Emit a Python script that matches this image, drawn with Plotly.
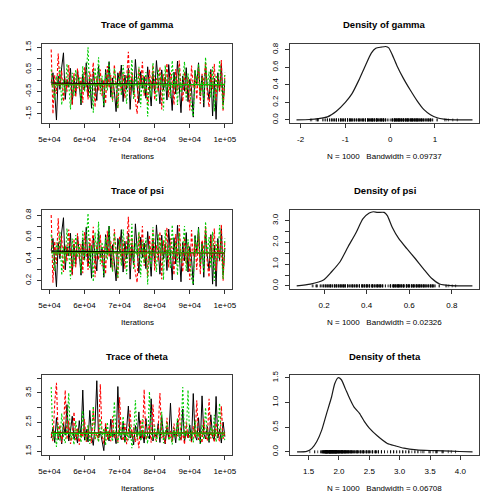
import plotly.graph_objects as go

# ---------------- data ----------------
iterations = list(range(50500, 100001, 500))  # thinned iteration numbers (100 per chain)

gamma_chain1 = [-0.10, 0.35, -0.55, -1.78, 0.20, -0.40, 0.60, 1.25, -0.85, 0.05,
                -0.30, 0.55, -1.05, 0.15, -0.60, 0.45, -0.20, -1.10, 0.30, -0.45,
                0.80, -0.70, 0.10, -1.25, 0.40, -0.15, -0.90, 0.65, -0.35, 0.02,
                -1.20, 0.50, -0.25, 0.85, -0.75, 0.12, -0.50, -1.40, 0.35, -0.10,
                0.70, -0.95, 0.25, -0.40, 0.55, -1.30, 0.08, -0.65, 0.95, -0.20,
                -1.00, 0.40, -0.35, 0.18, -0.80, 0.62, -0.12, -1.15, 0.30, -0.55,
                0.90, -0.28, -1.05, 0.48, -0.42, 0.15, -0.88, 0.72, -0.18, -1.35,
                0.38, -0.60, 0.88, -0.22, -1.45, 0.20, -0.48, 0.58, -0.95, 0.05,
                -0.38, -1.65, 0.45, -0.15, 0.80, -0.70, 0.22, -1.20, 0.65, -0.30,
                -0.85, 0.50, -1.60, 0.10, -1.75, 0.35, -0.45, 0.75, -1.10, 0.00]
gamma_chain2 = [1.40, -1.50, 0.25, -0.60, 1.22, -0.30, 0.45, -0.95, 0.10, -0.50,
                0.70, -0.20, -1.10, 0.35, -0.75, 0.55, -0.40, 0.15, -1.00, 0.60,
                -0.25, -0.85, 0.40, -0.10, 0.82, -1.20, 0.20, -0.45, 0.50, -0.70,
                0.05, -1.05, 0.65, -0.35, 0.25, -0.90, 0.72, -0.15, -1.25, 0.42,
                -0.55, 0.30, -0.80, 0.12, 1.30, -0.65, 0.38, -0.30, -1.00, -1.50,
                0.55, -0.22, 0.85, -0.68, 0.18, -1.15, 0.48, -0.40, 0.70, -0.88,
                0.10, -0.50, 0.62, -1.30, 0.28, -0.18, 0.78, -0.75, 0.35, -0.05,
                -1.10, 0.52, -0.45, 0.90, -0.28, -0.95, 0.40, -0.60, 0.15, -1.35,
                0.68, -0.32, 0.22, -0.85, 0.58, -1.05, 0.30, -0.15, 0.85, -0.62,
                -1.20, 0.45, -0.38, 0.75, -0.90, 0.18, -0.50, 0.92, -1.40, 0.25]
gamma_chain3 = [0.50, -0.40, -0.90, 0.20, -0.25, 0.60, -1.10, 0.05, -0.55, 0.75,
                -0.15, -1.30, 0.35, -0.70, 0.48, -0.35, 0.15, -1.00, 0.65, -0.50,
                0.28, 1.50, -0.80, 0.10, -1.45, 0.58, -0.30, 1.05, -0.62, 0.22,
                -1.15, 0.40, -0.45, 0.85, -0.20, -0.95, 0.55, -0.10, -1.25, 0.30,
                -0.68, 0.70, -0.05, -1.05, 0.45, -0.40, 0.95, -0.85, 0.18, -0.30,
                0.62, -1.20, 0.25, -0.58, 0.38, -1.62, 0.10, -0.72, 0.80, -0.25,
                -0.95, 0.52, -0.15, 0.30, -1.35, 0.68, -0.48, 0.12, -0.80, 0.90,
                -0.35, 0.20, -1.10, 0.58, -0.55, 0.05, 0.85, -0.90, 0.32, -0.42,
                -1.25, -1.62, 0.48, -0.20, 0.75, -0.65, 0.15, -1.00, 1.05, -0.30,
                0.40, -0.78, 0.62, -1.40, 0.25, -0.50, 0.90, -0.15, -1.30, 0.35]

psi_chain1 = [0.475, 0.587, 0.366, 0.144, 0.550, 0.401, 0.646, 0.777, 0.299, 0.512,
              0.426, 0.634, 0.259, 0.537, 0.354, 0.611, 0.450, 0.250, 0.574, 0.389,
              0.690, 0.332, 0.525, 0.223, 0.599, 0.463, 0.289, 0.657, 0.413, 0.505,
              0.231, 0.622, 0.438, 0.701, 0.321, 0.530, 0.378, 0.198, 0.587, 0.475,
              0.668, 0.279, 0.562, 0.401, 0.634, 0.214, 0.520, 0.343, 0.721, 0.450,
              0.269, 0.599, 0.413, 0.545, 0.310, 0.650, 0.470, 0.240, 0.574, 0.366,
              0.711, 0.430, 0.259, 0.618, 0.397, 0.537, 0.293, 0.673, 0.455, 0.206,
              0.594, 0.354, 0.707, 0.445, 0.190, 0.550, 0.382, 0.641, 0.279, 0.512,
              0.406, 0.161, 0.611, 0.463, 0.690, 0.332, 0.555, 0.231, 0.657, 0.426,
              0.299, 0.622, 0.168, 0.525, 0.148, 0.587, 0.389, 0.679, 0.250, 0.500]
psi_chain2 = [0.802, 0.182, 0.562, 0.354, 0.772, 0.426, 0.611, 0.279, 0.525, 0.378,
              0.668, 0.450, 0.250, 0.587, 0.321, 0.634, 0.401, 0.537, 0.269, 0.646,
              0.438, 0.299, 0.599, 0.475, 0.694, 0.231, 0.550, 0.389, 0.622, 0.332,
              0.512, 0.259, 0.657, 0.413, 0.562, 0.289, 0.673, 0.463, 0.223, 0.603,
              0.366, 0.574, 0.310, 0.530, 0.786, 0.343, 0.594, 0.426, 0.269, 0.182,
              0.634, 0.445, 0.701, 0.336, 0.545, 0.240, 0.618, 0.401, 0.668, 0.293,
              0.525, 0.378, 0.650, 0.214, 0.570, 0.455, 0.686, 0.321, 0.587, 0.488,
              0.250, 0.627, 0.389, 0.711, 0.430, 0.279, 0.599, 0.354, 0.537, 0.206,
              0.664, 0.421, 0.555, 0.299, 0.641, 0.259, 0.574, 0.463, 0.701, 0.350,
              0.231, 0.611, 0.406, 0.679, 0.289, 0.545, 0.378, 0.715, 0.198, 0.562]
psi_chain3 = [0.622, 0.401, 0.289, 0.550, 0.438, 0.646, 0.250, 0.512, 0.366, 0.679,
              0.463, 0.214, 0.587, 0.332, 0.618, 0.413, 0.537, 0.269, 0.657, 0.378,
              0.570, 0.818, 0.310, 0.525, 0.190, 0.641, 0.426, 0.741, 0.350, 0.555,
              0.240, 0.599, 0.389, 0.701, 0.450, 0.279, 0.634, 0.475, 0.223, 0.574,
              0.336, 0.668, 0.488, 0.259, 0.611, 0.401, 0.721, 0.299, 0.545, 0.426,
              0.650, 0.231, 0.562, 0.359, 0.594, 0.165, 0.525, 0.327, 0.690, 0.438,
              0.279, 0.627, 0.463, 0.574, 0.206, 0.664, 0.382, 0.530, 0.310, 0.711,
              0.413, 0.550, 0.250, 0.641, 0.366, 0.512, 0.701, 0.289, 0.579, 0.397,
              0.223, 0.165, 0.618, 0.450, 0.679, 0.343, 0.537, 0.269, 0.741, 0.426,
              0.599, 0.314, 0.650, 0.198, 0.562, 0.378, 0.711, 0.463, 0.214, 0.587]

theta_chain1 = [1.95, 2.30, 1.80, 2.65, 1.90, 2.15, 1.75, 2.45, 2.05, 3.10,
                1.85, 2.20, 2.70, 1.92, 2.10, 1.78, 2.55, 2.00, 3.60, 1.88,
                2.25, 1.82, 2.90, 2.02, 1.70, 2.40, 3.92, 1.95, 2.18, 1.80,
                1.52, 2.35, 2.05, 1.85, 2.60, 1.98, 2.12, 1.76, 3.72, 2.08,
                1.90, 2.50, 1.82, 2.28, 3.05, 1.95, 2.15, 1.72, 2.38, 2.00,
                2.85, 1.88, 2.20, 1.78, 2.62, 2.04, 1.92, 3.30, 1.85, 2.10,
                1.98, 2.45, 1.80, 2.70, 2.06, 1.75, 2.30, 1.94, 3.15, 1.86,
                2.22, 1.79, 2.55, 2.00, 1.90, 2.95, 1.84, 2.18, 1.96, 2.40,
                1.82, 3.48, 2.05, 1.88, 2.65, 1.76, 3.40, 2.10, 1.92, 2.35,
                1.80, 2.75, 2.02, 1.86, 3.38, 1.95, 2.25, 1.78, 2.50, 2.00]
theta_chain2 = [2.10, 1.85, 3.15, 3.85, 1.95, 2.40, 1.80, 2.20, 3.60, 1.90,
                2.55, 1.75, 2.05, 2.85, 1.88, 2.30, 1.72, 2.15, 1.98, 2.60,
                1.82, 2.35, 2.00, 1.78, 2.95, 1.92, 2.12, 1.85, 3.80, 2.05,
                1.76, 2.48, 1.90, 2.22, 1.84, 2.70, 1.96, 2.08, 1.80, 3.35,
                2.02, 1.86, 2.45, 1.74, 2.18, 2.90, 1.94, 2.32, 1.82, 2.06,
                1.60, 2.58, 1.92, 3.62, 1.88, 2.14, 2.40, 1.79, 3.10, 2.00,
                1.85, 2.28, 3.50, 1.95, 2.10, 1.77, 2.65, 1.90, 2.20, 1.83,
                2.45, 1.98, 2.04, 3.00, 1.87, 2.16, 1.73, 2.52, 1.94, 2.08,
                1.81, 2.36, 1.96, 3.25, 1.89, 2.12, 1.78, 2.60, 2.02, 1.86,
                3.30, 1.93, 2.24, 1.80, 2.48, 2.00, 1.84, 3.05, 1.92, 2.15]
theta_chain3 = [3.70, 1.90, 2.20, 1.65, 2.45, 1.85, 2.80, 2.00, 1.78, 2.30,
                3.50, 1.88, 2.10, 1.72, 2.55, 1.95, 2.25, 1.80, 2.90, 2.02,
                1.86, 2.40, 1.75, 2.15, 3.05, 1.92, 2.06, 1.82, 2.62, 1.98,
                2.28, 1.70, 2.50, 1.90, 2.12, 1.84, 3.20, 2.04, 1.78, 2.35,
                1.95, 2.70, 1.80, 2.18, 1.88, 2.42, 1.60, 2.08, 3.25, 1.92,
                2.20, 1.85, 2.60, 1.98, 2.05, 1.76, 3.55, 2.12, 1.90, 2.38,
                1.82, 2.25, 1.94, 2.85, 1.78, 2.10, 2.48, 1.88, 2.02, 1.73,
                2.30, 1.96, 2.65, 1.84, 2.14, 3.70, 1.92, 2.06, 3.60, 1.86,
                2.22, 1.80, 2.55, 1.98, 2.10, 1.75, 2.40, 1.90, 3.00, 2.04,
                1.85, 2.32, 1.95, 2.75, 1.82, 2.16, 3.15, 1.92, 2.08, 1.88]

# lowess smooth lines (start, end) per chain
smooth_x = [50500, 100000]
gamma_smooth = [[-0.12, -0.19], [-0.17, -0.19], [-0.19, -0.18]]
psi_smooth = [[0.470, 0.452], [0.458, 0.455], [0.455, 0.456]]
theta_smooth = [[2.13, 2.11], [2.12, 2.12], [2.11, 2.12]]

# density curves
gamma_dens_x = [-2.09, -1.8, -1.6, -1.4, -1.2, -1.0, -0.85, -0.7, -0.55, -0.42, -0.32, -0.2,
                -0.1, -0.03, 0.05, 0.15, 0.3, 0.45, 0.6, 0.75, 0.9, 1.05, 1.2, 1.45, 1.84]
gamma_dens_y = [0.0, 0.005, 0.015, 0.035, 0.1, 0.2, 0.3, 0.45, 0.62, 0.76, 0.815, 0.828,
                0.835, 0.82, 0.74, 0.62, 0.47, 0.34, 0.22, 0.12, 0.06, 0.025, 0.01, 0.002, 0.0]
psi_dens_x = [0.071, 0.135, 0.197, 0.235, 0.274, 0.312, 0.351, 0.382, 0.412, 0.431, 0.451,
              0.482, 0.497, 0.52, 0.551, 0.589, 0.628, 0.666, 0.705, 0.743, 0.797, 0.897]
psi_dens_y = [0.0, 0.08, 0.27, 0.65, 1.1, 1.79, 2.47, 3.08, 3.35, 3.41, 3.38,
              3.38, 3.23, 2.70, 2.17, 1.71, 1.26, 0.80, 0.35, 0.09, 0.015, 0.0]
theta_dens_x = [1.31, 1.47, 1.554, 1.635, 1.716, 1.797, 1.878, 1.93, 1.986, 2.04, 2.105, 2.176,
                2.246, 2.338, 2.42, 2.5, 2.635, 2.797, 2.93, 3.07, 3.28, 3.5, 3.716, 3.986, 4.2]
theta_dens_y = [0.0, 0.01, 0.07, 0.21, 0.44, 0.78, 1.11, 1.38, 1.50, 1.46, 1.28, 1.08,
                0.91, 0.78, 0.61, 0.48, 0.32, 0.17, 0.12, 0.074, 0.04, 0.027, 0.02, 0.007, 0.0]

params = ["gamma", "psi", "theta"]
bandwidths = ["0.09737", "0.02326", "0.06708"]
n_obs = 1000

iter_ticks = [50000, 60000, 70000, 80000, 90000, 100000]
iter_labels = ["5e+04", "6e+04", "7e+04", "8e+04", "9e+04", "1e+05"]

# ---------------- figure ----------------
# The page body has an 8px default margin, so the figure is laid out in page
# pixels shifted by OFF and sized to fit the 504px window exactly.
OFF = 8
W = H = 504 - 2 * OFF
FONT = "Liberation Sans, Arial, Helvetica, sans-serif"
chain_colors = ["#000000", "#FF0000", "#00CD00"]
chain_dash = ["solid", "3px,2px", "2px,2px"]
chain_width = [1.0, 1.1, 1.1]

traces_data = {"gamma": [gamma_chain1, gamma_chain2, gamma_chain3],
               "psi": [psi_chain1, psi_chain2, psi_chain3],
               "theta": [theta_chain1, theta_chain2, theta_chain3]}
smooth_data = {"gamma": gamma_smooth, "psi": psi_smooth, "theta": theta_smooth}
dens_data = {"gamma": (gamma_dens_x, gamma_dens_y),
             "psi": (psi_dens_x, psi_dens_y),
             "theta": (theta_dens_x, theta_dens_y)}

trace_yaxis = {
    "gamma": dict(range=[-1.92, 1.665], tickvals=[-1.5, -1.0, -0.5, 0.0, 0.5, 1.0, 1.5],
                  ticktext=["-1.5", "", "-0.5", "", "0.5", "", "1.5"]),
    "psi": dict(range=[0.123, 0.852], tickvals=[0.2, 0.3, 0.4, 0.5, 0.6, 0.7, 0.8],
                ticktext=["0.2", "", "0.4", "", "0.6", "", "0.8"]),
    "theta": dict(range=[1.37, 4.10], tickvals=[1.5, 2.0, 2.5, 3.0, 3.5, 4.0],
                  ticktext=["1.5", "", "2.5", "", "3.5", ""]),
}
dens_xaxis = {
    "gamma": dict(range=[-2.24, 1.99], tickvals=[-2, -1, 0, 1], ticktext=["-2", "-1", "0", "1"]),
    "psi": dict(range=[0.0385, 0.929], tickvals=[0.2, 0.4, 0.6, 0.8], ticktext=["0.2", "0.4", "0.6", "0.8"]),
    "theta": dict(range=[1.19, 4.31], tickvals=[1.5, 2.0, 2.5, 3.0, 3.5, 4.0],
                  ticktext=["1.5", "2.0", "2.5", "3.0", "3.5", "4.0"]),
}
dens_yaxis = {
    "gamma": dict(range=[-0.036, 0.868], tickvals=[0, 0.2, 0.4, 0.6, 0.8],
                  ticktext=["0.0", "0.2", "0.4", "0.6", "0.8"]),
    "psi": dict(range=[-0.145, 3.51], tickvals=[0, 0.5, 1.0, 1.5, 2.0, 2.5, 3.0],
                ticktext=["0.0", "", "1.0", "", "2.0", "", "3.0"]),
    "theta": dict(range=[-0.064, 1.546], tickvals=[0, 0.5, 1.0, 1.5],
                  ticktext=["0.0", "0.5", "1.0", "1.5"]),
}

col_px = [(39, 232), (291, 484)]
row_px = [(39, 119.5), (207, 287.5), (375, 455.5)]


def fx(p):
    return (p - OFF) / W


def fy(p):
    return 1 - (p - OFF) / H


fig = go.Figure()
layout = dict(width=W, height=H, autosize=False, margin=dict(l=0, r=0, t=0, b=0),
              paper_bgcolor="white", plot_bgcolor="white", showlegend=False,
              font=dict(family=FONT, size=8, color="black"))
annotations = []

axis_common = dict(showgrid=False, zeroline=False, showline=True, mirror=True,
                   linecolor="#3c3c3c", linewidth=1.2, ticks="outside", ticklen=4,
                   tickwidth=1, tickcolor="#333333", tickmode="array",
                   tickfont=dict(family=FONT, size=8, color="black"), fixedrange=True)

k = 0
for r, p in enumerate(params):
    for c in range(2):
        k += 1
        xname = "xaxis" if k == 1 else f"xaxis{k}"
        yname = "yaxis" if k == 1 else f"yaxis{k}"
        xref = "x" if k == 1 else f"x{k}"
        yref = "y" if k == 1 else f"y{k}"
        x0, x1 = col_px[c]
        y0, y1 = row_px[r]
        xd = [fx(x0), fx(x1)]
        yd = [fy(y1), fy(y0)]
        cx = fx((x0 + x1) / 2)
        if c == 0:
            for ch in range(3):
                fig.add_trace(go.Scatter(x=iterations, y=traces_data[p][ch], mode="lines",
                                         line=dict(color=chain_colors[ch], width=chain_width[ch],
                                                   dash=chain_dash[ch]),
                                         xaxis=xref, yaxis=yref, hoverinfo="skip"))
            for ch in range(3):
                fig.add_trace(go.Scatter(x=smooth_x, y=smooth_data[p][ch], mode="lines",
                                         line=dict(color=chain_colors[ch], width=1.2),
                                         xaxis=xref, yaxis=yref, hoverinfo="skip"))
            xa = dict(axis_common, domain=xd, anchor=yref, range=[48000, 102000],
                      tickvals=iter_ticks, ticktext=iter_labels, ticklabelstandoff=4)
            ya = dict(axis_common, domain=yd, anchor=xref, tickangle=-90, ticklabelstandoff=3,
                      **trace_yaxis[p])
            title = f"Trace of {p}"
            sub = "Iterations"
        else:
            dx, dy = dens_data[p]
            fig.add_trace(go.Scatter(x=dx, y=dy, mode="lines",
                                     line=dict(color="#1a1a1a", width=1.2, shape="spline", smoothing=0.6),
                                     xaxis=xref, yaxis=yref, hoverinfo="skip"))
            obs = traces_data[p][0] + traces_data[p][1] + traces_data[p][2]
            fig.add_trace(go.Scatter(x=obs, y=[0] * len(obs), mode="markers",
                                     marker=dict(symbol="line-ns-open", size=2, color="rgba(0,0,0,0.7)",
                                                 line=dict(width=1, color="rgba(0,0,0,0.7)")),
                                     xaxis=xref, yaxis=yref, hoverinfo="skip"))
            xa = dict(axis_common, domain=xd, anchor=yref, ticklabelstandoff=4, **dens_xaxis[p])
            ya = dict(axis_common, domain=yd, anchor=xref, tickangle=-90, ticklabelstandoff=3,
                      **dens_yaxis[p])
            title = f"Density of {p}"
            sub = f"N = {n_obs}\u00a0\u00a0\u00a0Bandwidth = {bandwidths[r]}"
        layout[xname] = xa
        layout[yname] = ya
        base = r * 168
        annotations.append(dict(text=f"<b>{title}</b>", x=cx, y=fy(base + 20),
                                xref="paper", yref="paper", showarrow=False,
                                xanchor="center", yanchor="middle",
                                font=dict(family=FONT, size=9.5, color="black")))
        annotations.append(dict(text=sub, x=cx, y=fy(base + 153),
                                xref="paper", yref="paper", showarrow=False,
                                xanchor="center", yanchor="middle",
                                font=dict(family=FONT, size=8, color="black")))

layout["annotations"] = annotations
fig.update_layout(**layout)
fig.write_html("out.html")
